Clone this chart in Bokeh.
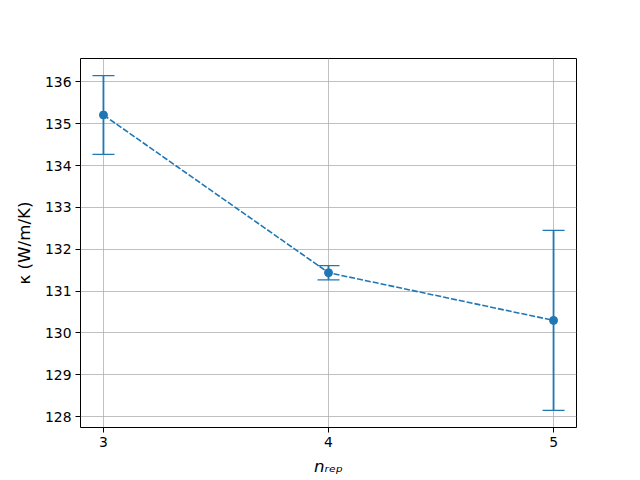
from bokeh.plotting import figure
from bokeh.models import ColumnDataSource, Whisker, TeeHead, Range1d, FixedTicker
from bokeh.embed import file_html
from bokeh.resources import INLINE

n_rep = [3, 4, 5]
kappa = [135.21, 131.44, 130.30]
kappa_err = [0.94, 0.17, 2.15]
y_ticks = [128, 129, 130, 131, 132, 133, 134, 135, 136]

C = "#1f77b4"
FONT = "DejaVu Sans"

upper = [k + e for k, e in zip(kappa, kappa_err)]
lower = [k - e for k, e in zip(kappa, kappa_err)]
src = ColumnDataSource(dict(x=n_rep, y=kappa, upper=upper, lower=lower))

p = figure(width=640, height=480, output_backend="svg", toolbar_location=None,
           x_range=Range1d(2.898, 5.102), y_range=Range1d(127.74, 136.56),
           min_border_left=80, min_border_right=64, min_border_top=58, min_border_bottom=53)

p.background_fill_color = "white"
p.border_fill_color = "white"
p.outline_line_color = "black"
p.outline_line_width = 1

for ax in (p.xaxis[0], p.yaxis[0]):
    ax.axis_line_color = None
    ax.major_tick_out = 5
    ax.major_tick_in = 0
    ax.minor_tick_line_color = None
    ax.major_tick_line_color = "black"
    ax.major_label_text_font = FONT
    ax.major_label_text_font_size = "13.9px"
    ax.major_label_text_color = "black"
    ax.major_label_standoff = 4
    ax.axis_label_text_font = FONT
    ax.axis_label_text_font_size = "16.7px"
    ax.axis_label_text_color = "black"

p.xaxis[0].ticker = FixedTicker(ticks=n_rep)
p.yaxis[0].ticker = FixedTicker(ticks=y_ticks)

p.yaxis[0].axis_label = "κ (W/m/K)"
p.yaxis[0].axis_label_text_font_style = "normal"
p.yaxis[0].axis_label_standoff = 8

p.xaxis[0].axis_label = "nᵣₑₚ"
p.xaxis[0].axis_label_text_font_style = "italic"
p.xaxis[0].axis_label_standoff = 6

p.grid.grid_line_color = "#b0b0b0"
p.grid.grid_line_width = 0.8

p.line("x", "y", source=src, line_color=C, line_width=1.6, line_dash="6 2")
p.add_layout(Whisker(source=src, base="x", upper="upper", lower="lower", dimension="height",
                     line_color=C, line_width=1.8,
                     upper_head=TeeHead(size=22, line_color=C, line_width=1.3),
                     lower_head=TeeHead(size=22, line_color=C, line_width=1.3)))
p.scatter("x", "y", source=src, size=8, fill_color=C, line_color=C)

open("out.html", "w").write(file_html(p, INLINE))
